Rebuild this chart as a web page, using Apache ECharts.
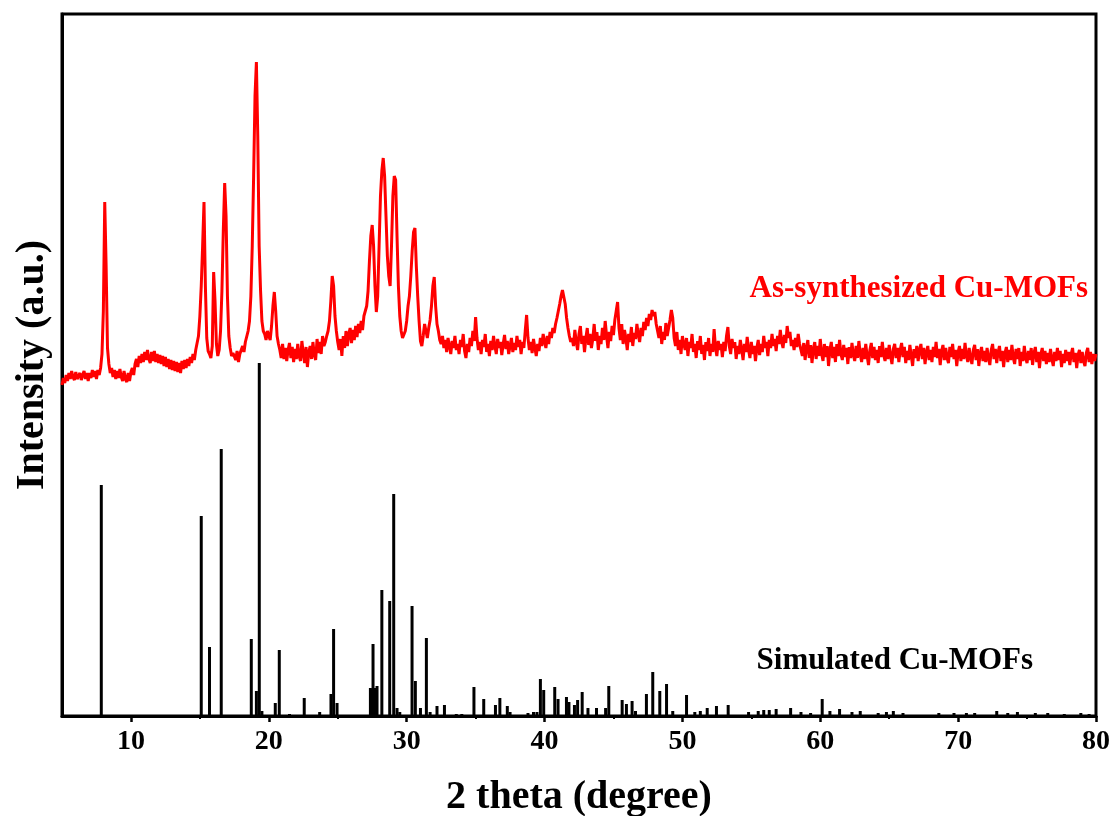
<!DOCTYPE html>
<html>
<head>
<meta charset="utf-8">
<script src="https://cdn.jsdelivr.net/npm/echarts@6/dist/echarts.min.js"></script>
<style>
  html, body { margin: 0; padding: 0; background: #ffffff; }
  #chart { width: 1117px; height: 816px; }
</style>
</head>
<body>
<div id="chart"></div>
<script>
// Measured XRD pattern: intensity (a.u.) sampled every 0.1 deg from 5.0 to 80.0 deg 2-theta
const TWO_THETA_START = 5.0;
const TWO_THETA_STEP = 0.1;
const measuredIntensity = [
  331,338,333,341,335,343,337,345,339,336, // 5
  344,337,335,343,336,341,345,337,343,335, // 6
  343,338,346,339,345,337,346,341,348,362, // 7
  405,514,450,368,352,343,348,339,346,337, // 8
  345,338,347,339,335,345,337,334,343,335, // 9
  344,348,341,352,357,349,360,353,362,354, // 10
  364,356,366,357,353,364,355,365,354,362, // 11
  353,361,352,360,350,359,349,357,347,356, // 12
  346,355,345,354,344,353,343,355,347,356, // 13
  348,357,350,359,353,362,356,366,368,380, // 14
  400,430,470,514,430,378,365,362,358,370, // 15
  444,415,372,360,366,385,425,485,533,500, // 16
  420,380,368,360,363,362,356,365,354,362, // 17
  362,370,364,374,373,385,395,420,470,540, // 18
  620,654,580,470,426,395,385,382,376,385, // 19
  380,376,390,410,424,405,380,372,366,358, // 20
  372,357,368,355,366,373,358,369,354,367, // 21
  357,372,360,355,375,362,353,369,349,364, // 22
  370,357,374,361,356,377,363,374,362,380, // 23
  370,374,380,385,395,415,440,430,400,385, // 24
  374,366,377,360,380,368,385,370,382,388, // 25
  373,386,376,390,379,392,383,395,386,400, // 26
  402,410,425,455,480,491,470,430,404,420, // 27
  470,520,545,558,540,500,460,440,430,470, // 28
  520,540,536,480,430,400,385,378,376,385, // 29
  395,410,420,440,465,484,488,450,420,395, // 30
  375,370,380,392,385,378,388,396,410,430, // 31
  439,410,392,385,376,372,380,368,376,364, // 32
  378,370,362,375,368,380,366,372,362,376, // 33
  369,382,365,358,372,364,378,370,385,375, // 34
  399,378,366,374,362,376,369,382,364,372, // 35
  360,375,366,380,370,362,377,368,374,361, // 36
  372,381,367,375,362,370,378,364,373,366, // 37
  380,369,376,362,374,368,385,401,378,366, // 38
  374,363,377,368,360,372,365,378,370,382, // 39
  374,368,380,372,384,378,388,383,392,398, // 40
  405,412,420,426,424,412,398,388,380,374, // 41
  378,370,386,374,366,382,390,372,380,364, // 42
  378,388,371,382,368,377,392,375,384,366, // 43
  380,372,388,376,395,380,368,384,375,390, // 44
  381,396,405,414,388,376,392,372,386,378, // 45
  366,382,374,389,370,383,377,392,381,374, // 46
  388,380,394,386,398,390,402,396,406,400, // 47
  404,392,385,378,390,372,384,376,393,380, // 48
  388,396,406,398,378,370,384,366,376,362, // 49
  380,372,366,378,360,374,368,382,364,372, // 50
  358,375,366,380,362,371,356,374,365,378, // 51
  360,372,364,387,368,360,375,366,372,359, // 52
  374,365,380,389,370,362,377,368,374,357, // 53
  370,362,376,367,356,372,364,379,366,358, // 54
  374,362,370,355,368,376,361,372,364,380, // 55
  368,374,360,376,368,382,370,377,365,380, // 56
  372,386,374,368,381,373,390,378,384,370, // 57
  376,366,378,369,382,372,366,360,373,356, // 58
  368,376,358,371,353,367,374,357,370,360, // 59
  377,362,355,372,359,370,350,366,374,358, // 60
  369,354,372,360,376,362,356,371,359,368, // 61
  352,369,358,373,361,355,370,358,375,362, // 62
  354,368,357,372,360,351,366,373,358,369, // 63
  356,366,353,370,359,374,361,355,368,357, // 64
  371,360,352,367,372,358,368,354,366,373, // 65
  359,369,353,365,356,371,360,350,367,358, // 66
  370,355,366,372,357,368,352,364,370,356, // 67
  366,354,369,359,374,358,367,351,365,371, // 68
  356,368,358,353,369,359,372,357,366,350, // 69
  364,370,355,367,357,373,360,354,368,358, // 70
  352,366,371,356,367,350,363,369,355,365, // 71
  354,368,358,351,366,372,357,367,353,364, // 72
  370,355,365,349,363,369,354,366,356,371, // 73
  358,352,367,357,368,350,364,355,370,358, // 74
  353,365,356,368,351,363,369,354,364,348, // 75
  362,368,355,365,352,363,354,367,357,350, // 76
  364,355,368,356,365,349,362,353,366,355, // 77
  364,351,362,368,354,363,348,361,366,353, // 78
  364,355,350,363,368,354,364,352,362,355, // 79
  362                                       // 80
];

// Simulated stick pattern: peak positions (deg 2-theta) and intensities (a.u.)
const simulatedPositions = [
  7.85, 15.1, 15.7, 16.55, 18.73, 19.1, 19.31, 19.5, 20.47, 20.76,
  21.5, 22.57, 23.69, 24.51, 24.7, 24.95, 27.37, 27.45, 27.56, 27.7,
  27.85, 28.2, 28.77, 29.06, 29.3, 29.5, 30.39, 30.63, 31.0, 31.43,
  31.7, 32.2, 32.74, 33.6, 34.0, 34.88, 35.59, 36.44, 36.76, 37.3,
  37.5, 38.8, 39.2, 39.45, 39.7, 39.94, 40.74, 40.98, 41.59, 41.77,
  42.17, 42.4, 42.73, 43.15, 43.77, 44.43, 44.66, 45.63, 45.94, 46.35,
  46.6, 47.39, 47.85, 48.36, 48.85, 49.3, 50.3, 50.9, 51.3, 51.8,
  52.47, 53.32, 54.8, 55.5, 55.9, 56.3, 56.8, 57.85, 58.6, 59.3,
  60.14, 60.7, 61.4, 62.3, 62.9, 64.2, 64.8, 65.3, 66.0, 68.6,
  69.7, 70.6, 71.2, 72.8, 73.6, 74.3, 75.6, 76.5, 77.7, 78.9,
  79.5
];
const simulatedIntensity = [
  231, 200, 69, 267, 77, 25, 353, 5, 13, 66,
  2, 18, 4, 22, 87, 13, 28, 27, 72, 28,
  30, 126, 115, 222, 8, 4, 110, 35, 8, 78,
  4, 10, 11, 2, 2, 29, 17, 11, 18, 10,
  4, 3, 4, 4, 37, 26, 29, 17, 19, 14,
  11, 16, 24, 8, 8, 8, 30, 16, 12, 15,
  5, 22, 44, 25, 32, 5, 21, 4, 5, 8,
  10, 11, 4, 5, 6, 6, 7, 8, 4, 3,
  17, 5, 7, 4, 5, 3, 4, 5, 3, 3,
  3, 3, 3, 5, 3, 4, 3, 3, 2, 3,
  2
];

// Axis ticks and labels
const majorTicks = [10, 20, 30, 40, 50, 60, 70, 80];
const minorTicks = [15, 25, 35, 45, 55, 65, 75];
const xRange = [5, 80];
const yRange = [0, 702];

const measuredLabel = 'As-synthesized Cu-MOFs';
const simulatedLabel = 'Simulated Cu-MOFs';

const SERIF = '"Liberation Serif", "Times New Roman", serif';

const measuredData = measuredIntensity.map((v, i) => [
  +(TWO_THETA_START + i * TWO_THETA_STEP).toFixed(2), v
]);
const simulatedData = simulatedPositions.map((x, i) => [x, simulatedIntensity[i]]);

const chart = echarts.init(document.getElementById('chart'), null, { renderer: 'canvas' });

chart.setOption({
  animation: false,
  backgroundColor: '#ffffff',
  grid: {
    left: 62, right: 21, top: 14, bottom: 100,
    containLabel: false, outerBoundsMode: 'none',
    show: true, borderColor: '#000000', borderWidth: 3,
    backgroundColor: 'transparent'
  },
  xAxis: [
    {
      type: 'value', min: xRange[0], max: xRange[1],
      name: '2 theta (degree)', nameLocation: 'middle', nameGap: 62,
      nameTextStyle: { fontFamily: SERIF, fontWeight: 'bold', fontSize: 40, color: '#000' },
      axisLine: { show: true, onZero: false, lineStyle: { color: '#000', width: 3 } },
      axisTick: { show: true, inside: false, length: 6, lineStyle: { color: '#000', width: 2.5 }, customValues: majorTicks },
      axisLabel: { show: true, margin: 12, fontFamily: SERIF, fontWeight: 'bold', fontSize: 28, color: '#000', customValues: majorTicks },
      splitLine: { show: false }
    },
    {
      type: 'value', min: xRange[0], max: xRange[1], position: 'bottom',
      axisLine: { show: false },
      axisTick: { show: true, inside: false, length: 3, lineStyle: { color: '#000', width: 2 }, customValues: minorTicks },
      axisLabel: { show: false },
      splitLine: { show: false }
    }
  ],
  yAxis: {
    type: 'value', min: yRange[0], max: yRange[1],
    name: 'Intensity (a.u.)', nameLocation: 'middle', nameGap: 9, nameRotate: 90,
    nameTextStyle: { fontFamily: SERIF, fontWeight: 'bold', fontSize: 40, color: '#000' },
    axisLine: { show: true, lineStyle: { color: '#000', width: 3 } },
    axisTick: { show: false },
    axisLabel: { show: false },
    splitLine: { show: false }
  },
  series: [
    {
      name: simulatedLabel, type: 'bar', xAxisIndex: 0,
      data: simulatedData, barWidth: 3,
      itemStyle: { color: '#000000' }, z: 2
    },
    {
      name: measuredLabel, type: 'line', xAxisIndex: 0,
      data: measuredData, showSymbol: false, symbol: 'none',
      lineStyle: { color: '#ff0000', width: 3 }, z: 3
    }
  ],
  graphic: [
    {
      type: 'text', x: 1088, y: 289,
      style: {
        text: measuredLabel, fill: '#ff0000',
        font: 'bold 31px ' + SERIF, textAlign: 'right', textVerticalAlign: 'middle'
      }
    },
    {
      type: 'text', x: 1033, y: 661,
      style: {
        text: simulatedLabel, fill: '#000000',
        font: 'bold 31px ' + SERIF, textAlign: 'right', textVerticalAlign: 'middle'
      }
    }
  ]
});
</script>
</body>
</html>
